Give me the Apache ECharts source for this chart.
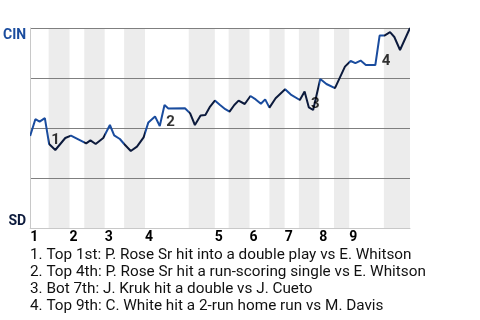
<!DOCTYPE html>
<html><head><meta charset="utf-8">
<script src="https://cdn.jsdelivr.net/npm/echarts@6/dist/echarts.min.js"></script>
<style>html,body{margin:0;padding:0;background:#fff}#c{width:480px;height:320px}</style>
</head><body><div id="c"></div>
<script>
// Half-inning boundaries on the game-progress axis (top 1, bot 1, top 2, ...)
const halfInningBounds = [0, 3.9, 8.3, 11.4, 15.7, 19.8, 24.2, 33.4, 38.9, 41.8, 46.2, 50.4, 53.6, 56.6, 60.9, 64.0, 67.2, 74.5, 80];
const inningLabels = ['1', '2', '3', '4', '5', '6', '7', '8', '9'];
// Game progress position of each plate appearance / event
const eventX = [0, 1.1, 2.0, 3.1, 4.0, 5.3, 7.4, 8.6, 11.8, 12.7, 13.8, 15.4, 16.8, 17.7, 18.9, 19.8,
  21.2, 22.5, 23.9, 24.9, 26.3, 27.3, 28.3, 29.1, 32.6, 33.7, 34.7, 35.9, 36.9, 37.9, 38.9, 40.0,
  41.1, 42.0, 43.0, 43.9, 45.2, 46.4, 47.5, 48.6, 49.5, 50.4, 51.7, 53.7, 54.9, 56.8, 57.8, 58.7,
  59.6, 61.1, 62.4, 64.2, 66.3, 67.5, 68.5, 69.6, 70.7, 72.7, 73.6, 74.7, 75.8, 76.7, 77.9, 80];
// CIN win probability after each event (1 = CIN wins, 0 = SD wins)
const cinWinProb = [0.46, 0.544, 0.532, 0.549, 0.42, 0.39, 0.45, 0.462, 0.423, 0.438, 0.42, 0.45, 0.515, 0.463, 0.445, 0.42,
  0.385, 0.407, 0.453, 0.528, 0.558, 0.51, 0.615, 0.598, 0.599, 0.573, 0.515, 0.563, 0.565, 0.607, 0.637, 0.615,
  0.594, 0.582, 0.615, 0.637, 0.62, 0.66, 0.643, 0.621, 0.643, 0.602, 0.649, 0.694, 0.667, 0.64, 0.683, 0.603,
  0.59, 0.745, 0.72, 0.699, 0.807, 0.835, 0.824, 0.837, 0.815, 0.815, 0.962, 0.963, 0.979, 0.955, 0.89, 1.0];
const keyEventIdx = [4, 22, 47, 58];
const keyEventNotes = [
  '1. Top 1st: P. Rose Sr hit into a double play vs E. Whitson',
  '2. Top 4th: P. Rose Sr hit a run-scoring single vs E. Whitson',
  '3. Bot 7th: J. Kruk hit a double vs J. Cueto',
  '4. Top 9th: C. White hit a 2-run home run vs M. Davis'
];
const teamTop = 'CIN';
const teamBottom = 'SD';

const BLUE = '#1a4c9e', NAVY = '#0c1a3c', FONT = 'Roboto';

const linePts = eventX.map((x, i) => [x, cinWinProb[i]]);
const pieces = [];
for (let k = 0; k < halfInningBounds.length - 1; k++) {
  const p = { gte: halfInningBounds[k], color: k % 2 === 0 ? BLUE : NAVY };
  if (k < halfInningBounds.length - 2) p.lt = halfInningBounds[k + 1]; else p.lte = halfInningBounds[k + 1];
  pieces.push(p);
}
const topStarts = halfInningBounds.filter((v, k) => k % 2 === 0 && k < halfInningBounds.length - 1);
const labelPts = keyEventIdx.map((i, n) => [eventX[i - 1], Math.min(cinWinProb[i - 1], cinWinProb[i]), String(n + 1)]);

const chart = echarts.init(document.getElementById('c'), null, { renderer: 'canvas' });
chart.setOption({
  animation: false,
  textStyle: { fontFamily: FONT },
  grid: { left: 30, right: 70, top: 28, bottom: 92 },
  xAxis: {
    type: 'value', min: 0, max: 80, z: 0,
    axisLine: { show: true, lineStyle: { color: '#c8c8c8', width: 1 } },
    axisTick: { show: false, customValues: halfInningBounds },
    splitLine: { show: false },
    splitArea: { show: true, areaStyle: { color: ['rgba(255,255,255,0)', '#ececec'] } },
    axisLabel: {
      customValues: topStarts, align: 'left', margin: 2,
      formatter: v => inningLabels[topStarts.indexOf(v)] || '',
      fontFamily: FONT, fontSize: 14, fontWeight: 'bold', color: '#000'
    }
  },
  yAxis: [{
    type: 'value', min: 0, max: 1, interval: 0.25, z: 1,
    axisLine: { show: true, lineStyle: { color: '#c8c8c8' } },
    axisTick: { show: false },
    splitLine: { show: true, lineStyle: { color: ['#c8c8c8', '#7f7f7f', '#7f7f7f', '#7f7f7f', '#7f7f7f'], width: 1 } },
    axisLabel: {
      margin: 4, verticalAlign: 'top',
      formatter: v => v === 1 ? teamTop : '',
      fontFamily: FONT, fontSize: 14, fontWeight: 'bold', color: BLUE
    }
  }, {
    type: 'value', min: 0, max: 1, interval: 0.25, position: 'left', z: 1,
    axisLine: { show: false }, axisTick: { show: false }, splitLine: { show: false },
    axisLabel: {
      margin: 4, verticalAlign: 'bottom',
      formatter: v => v === 0 ? teamBottom : '',
      fontFamily: FONT, fontSize: 14, fontWeight: 'bold', color: NAVY
    }
  }],
  visualMap: { show: false, type: 'piecewise', dimension: 0, seriesIndex: 0, pieces: pieces },
  series: [{
    type: 'line', data: linePts, showSymbol: false, symbol: 'none',
    lineStyle: { width: 2 }, z: 3, silent: true
  }, {
    type: 'scatter', data: labelPts, symbolSize: 1, z: 4, silent: true,
    itemStyle: { color: 'rgba(0,0,0,0)' },
    label: {
      show: true, position: 'right', distance: 0, align: 'left', verticalAlign: 'bottom', offset: [6, 4],
      formatter: p => p.value[2], fontFamily: FONT, fontSize: 15, fontWeight: 'bold', color: '#000'
    }
  }],
  graphic: [{
    type: 'text', left: 30, top: 247, silent: true,
    style: { text: keyEventNotes.join('\n'), font: '15.3px Roboto', fill: '#111', lineHeight: 16.8 }
  }]
});
</script></body></html>
